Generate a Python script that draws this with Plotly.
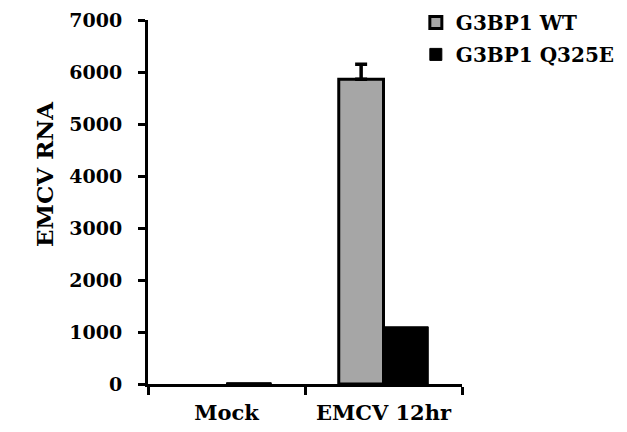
import plotly.graph_objects as go

categories = ["Mock", "EMCV 12hr"]
wt_values = [None, 5860]   # no visible WT bar in Mock
wt_err = [None, 290]
q_values = [25, 1100]
series_names = ["G3BP1 WT", "G3BP1 Q325E"]
y_ticks = [0, 1000, 2000, 3000, 4000, 5000, 6000, 7000]
y_title = "EMCV RNA"

font_family = "DejaVu Serif"
bold = dict(family=font_family, color="black", weight="bold")

fig = go.Figure()
fig.add_trace(go.Bar(
    x=categories, y=wt_values, name=series_names[0],
    marker=dict(color="#a6a6a6", line=dict(color="black", width=3)),
    error_y=dict(type="data", symmetric=False, array=wt_err, arrayminus=[0, 0],
                 visible=True, color="black", thickness=3.5, width=6),
    legendgroup="a",
))
fig.add_trace(go.Bar(
    x=categories, y=q_values, name=series_names[1],
    marker=dict(color="black", line=dict(color="black", width=1)),
    legendgroup="b",
))

fig.update_layout(
    width=627, height=432,
    margin=dict(l=140, r=173, t=12, b=56, autoexpand=False),
    paper_bgcolor="white", plot_bgcolor="white",
    barmode="group", bargap=0.43, bargroupgap=0,
    font=dict(family=font_family, size=16, color="black"),
    showlegend=True,
    legend=dict(x=0.853, y=1.047, xanchor="left", yanchor="top",
                font=dict(size=20, **bold),
                traceorder="grouped", tracegroupgap=3, itemwidth=30,
                bgcolor="rgba(0,0,0,0)"),
    annotations=[dict(text=y_title, xref="paper", yref="paper", x=-0.328, y=0.577,
                      xanchor="center", yanchor="middle", textangle=-90, showarrow=False,
                      font=dict(size=23, **bold))],
)
fig.update_xaxes(
    showline=True, linecolor="black", linewidth=3,
    ticks="outside", tickson="boundaries", ticklen=8, tickwidth=3, tickcolor="black",
    tickfont=dict(size=21, **bold), ticklabelstandoff=8,
    showgrid=False, zeroline=False,
)
fig.update_yaxes(
    range=[0, 7000], tickvals=y_ticks,
    showline=True, linecolor="black", linewidth=3,
    ticks="outside", ticklen=7, tickwidth=2.5, tickcolor="black",
    tickfont=dict(size=19, **bold), ticklabelstandoff=12,
    showgrid=False, zeroline=False,
)

fig.write_html("out.html")
